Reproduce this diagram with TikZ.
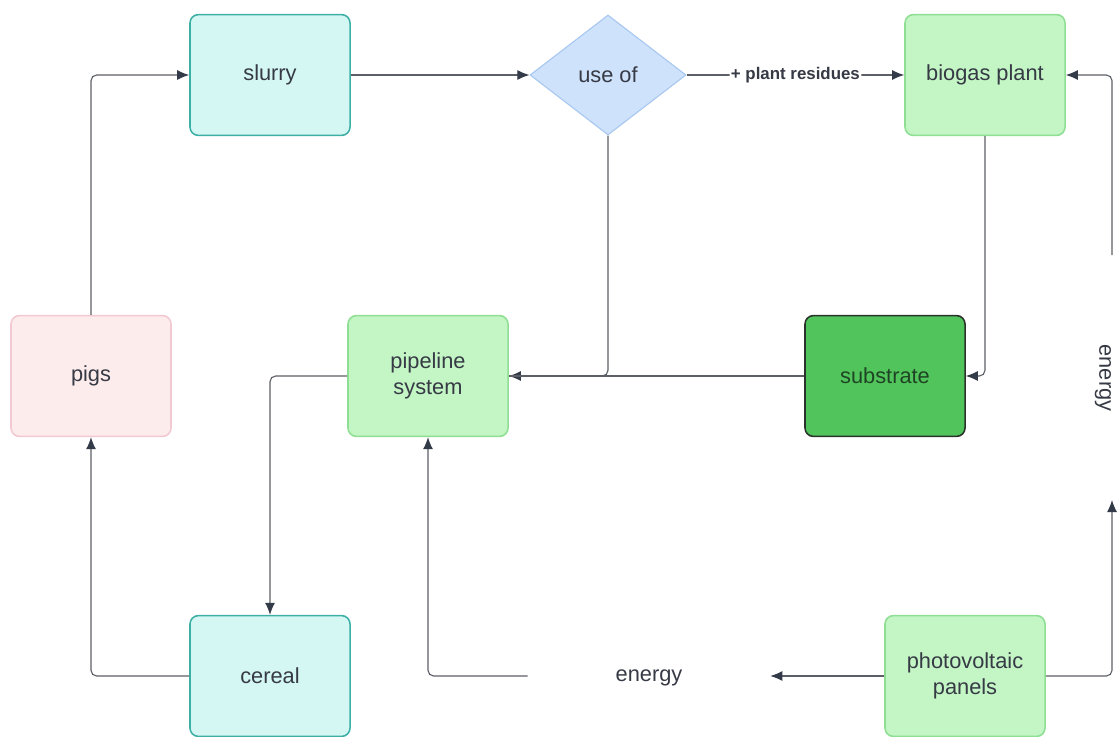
\documentclass[tikz,border=0pt]{standalone}
\usepackage{fontspec}
\setmainfont{Liberation Sans}
\usetikzlibrary{arrows.meta,shapes.geometric}

\definecolor{txt}{HTML}{363A45}
\definecolor{lnk}{HTML}{5C5F66}
\definecolor{tip}{HTML}{333A48}
\definecolor{cyanfill}{HTML}{D4F7F3}
\definecolor{cyanline}{HTML}{3DAFA5}
\definecolor{pinkfill}{HTML}{FDECEC}
\definecolor{pinkline}{HTML}{F2C9D2}
\definecolor{bluefill}{HTML}{CFE2FB}
\definecolor{blueline}{HTML}{A8C8F0}
\definecolor{greenfill}{HTML}{C3F5C5}
\definecolor{greenline}{HTML}{8EDF93}
\definecolor{subfill}{HTML}{52C45C}
\definecolor{subline}{HTML}{2A332B}
\definecolor{subtext}{HTML}{1E4424}

\tikzset{
  box/.style={draw, rounded corners=6, line width=1.1pt, minimum width=4cm,
    minimum height=3.02cm, align=center, text=txt,
    font=\fontsize{15.5}{18}\selectfont},
  cyanbox/.style={box, fill=cyanfill, draw=cyanline},
  pinkbox/.style={box, fill=pinkfill, draw=pinkline},
  greenbox/.style={box, fill=greenfill, draw=greenline},
  link/.style={draw=lnk, line width=0.8pt, rounded corners=4,
    -{Latex[length=0.3cm,width=0.25cm,color=tip]}},
  plain/.style={draw=lnk, line width=0.8pt, rounded corners=4},
  flowtext/.style={text=txt, font=\fontsize{15.5}{18}\selectfont, inner sep=0pt}
}

\begin{document}
\begin{tikzpicture}[x=0.025cm,y=-0.025cm]
\useasboundingbox (0,0) rectangle (1117,736);

\node[cyanbox] (slurry) at (270,75) {slurry};
\node[diamond, draw=blueline, fill=bluefill, line width=0.8pt, minimum width=3.9cm,
  minimum height=3cm, inner sep=0pt, text=txt,
  font=\fontsize{15.5}{18}\selectfont] (useof) at (608,75) {use of};
\node[greenbox] (biogas) at (985,75) {biogas plant};

  \node[pinkbox] (pigs) at (91,376) {pigs};
  \node[greenbox] (pipeline) at (428,376) {pipeline\\system};
  \node[box, fill=subfill, draw=subline, text=subtext] (substrate) at (885,376) {substrate};

\node[cyanbox] (cereal) at (270,676) {cereal};
\node[greenbox] (pv) at (965,676) {photovoltaic\\panels};

\node[flowtext, minimum width=6.05cm] (energyB) at (649,678) {energy};
\node[flowtext, rotate=-90] (energyR) at (1103,378) {energy};
\coordinate (energyTop) at (1112,255);
\coordinate (energyBot) at (1112,500);


  \draw[link] (pigs.north) |- (slurry.west);
\draw[link] (slurry.east) -- (useof.west);
\draw[link] (useof.east) -- node[fill=white, text=txt, inner sep=1pt,
  font=\fontsize{12}{14}\selectfont\bfseries] {+ plant residues} (biogas.west);

\draw[link] (useof.south) |- (pipeline.east);
\draw[plain] (substrate.west) -- (pipeline.east);
\draw[link] (biogas.south) |- (substrate.east);

  \draw[link] (pipeline.west) -| (cereal.north);
  \draw[link] (cereal.west) -| (pigs.south);

\draw[link] (pv.west) -- (energyB.east |- pv.west);
\draw[link] (energyB.west |- pv.west) -| (pipeline.south);

\draw[link] (pv.east) -| (energyBot);
\draw[link] (energyTop) |- (biogas.east);

\end{tikzpicture}
\end{document}
